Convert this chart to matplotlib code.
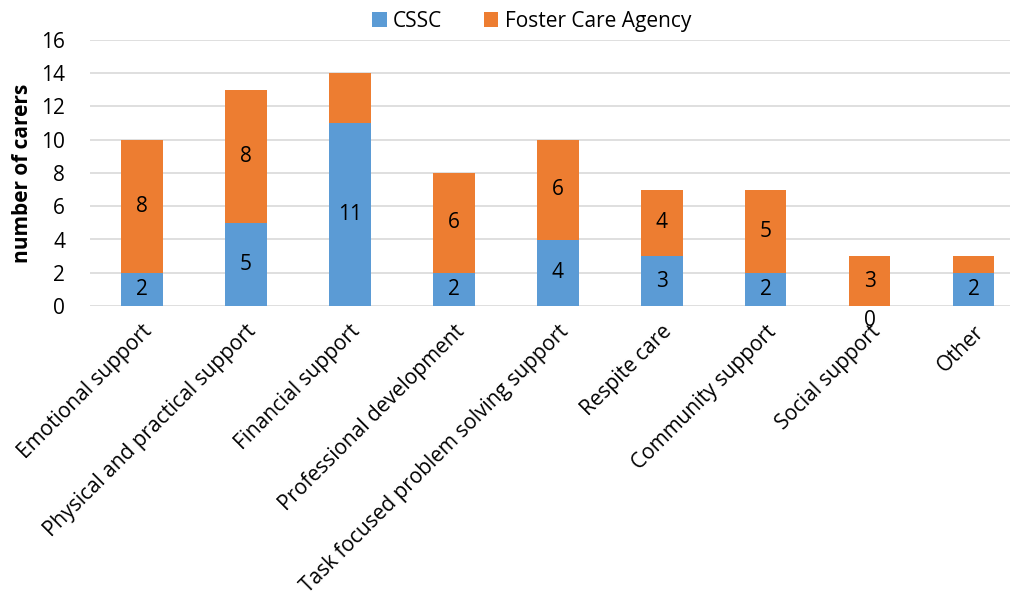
import numpy as np
import matplotlib.pyplot as plt

categories = ['Emotional support', 'Physical and practical support', 'Financial support',
              'Professional development', 'Task focused problem solving support',
              'Respite care', 'Community support', 'Social support', 'Other']
cssc = [2, 5, 11, 2, 4, 3, 2, 0, 2]
foster = [8, 8, 3, 6, 6, 4, 5, 3, 1]
# which foster segments carry a data label in the original
foster_shown = [True, True, False, True, True, True, True, True, False]

blue = '#5b9bd5'
orange = '#ed7d31'

plt.rcParams['font.family'] = ['Open Sans', 'DejaVu Sans']

fig = plt.figure(figsize=(10.15, 5.96), dpi=100)
ax = fig.add_axes([90 / 1015, 1 - 306 / 596, 920 / 1015, 266 / 596])

x = np.arange(len(categories))
b1 = ax.bar(x, cssc, width=0.4, color=blue, label='CSSC', zorder=2)
b2 = ax.bar(x, foster, width=0.4, bottom=cssc, color=orange, label='Foster Care Agency', zorder=2)

cssc_labels = [str(v) if v > 0 else '' for v in cssc]
foster_labels = [str(v) if s else '' for v, s in zip(foster, foster_shown)]
ax.bar_label(b1, labels=cssc_labels, label_type='center', fontsize=15)
ax.bar_label(b2, labels=foster_labels, label_type='center', fontsize=15)
for i, v in enumerate(cssc):
    if v == 0:
        ax.annotate('0', (x[i], v), xytext=(0, -3), textcoords='offset points',
                    ha='center', va='top', fontsize=15)

ax.set_ylim(0, 16)
ax.set_yticks(range(0, 17, 2))
ax.set_xlim(-0.5, 8.35)
ax.set_xticks(x)
ax.set_xticklabels(categories, rotation=45, ha='right', rotation_mode='anchor', fontsize=15)
ax.tick_params(axis='y', labelsize=15, length=0, pad=18)
ax.tick_params(axis='x', length=0, pad=11)
ax.set_ylabel('number of carers', fontsize=15, fontweight='bold', labelpad=6)
ax.grid(axis='y', color='#d9d9d9', linewidth=1.2, zorder=0)
for s in ax.spines.values():
    s.set_visible(False)

ax.legend(loc='lower center', bbox_to_anchor=(0.48, 1.0), ncol=2, frameon=False,
          fontsize=15, handlelength=0.7, handleheight=0.7, columnspacing=2.0,
          handletextpad=0.3, borderaxespad=0.0)

plt.savefig('out.png')
